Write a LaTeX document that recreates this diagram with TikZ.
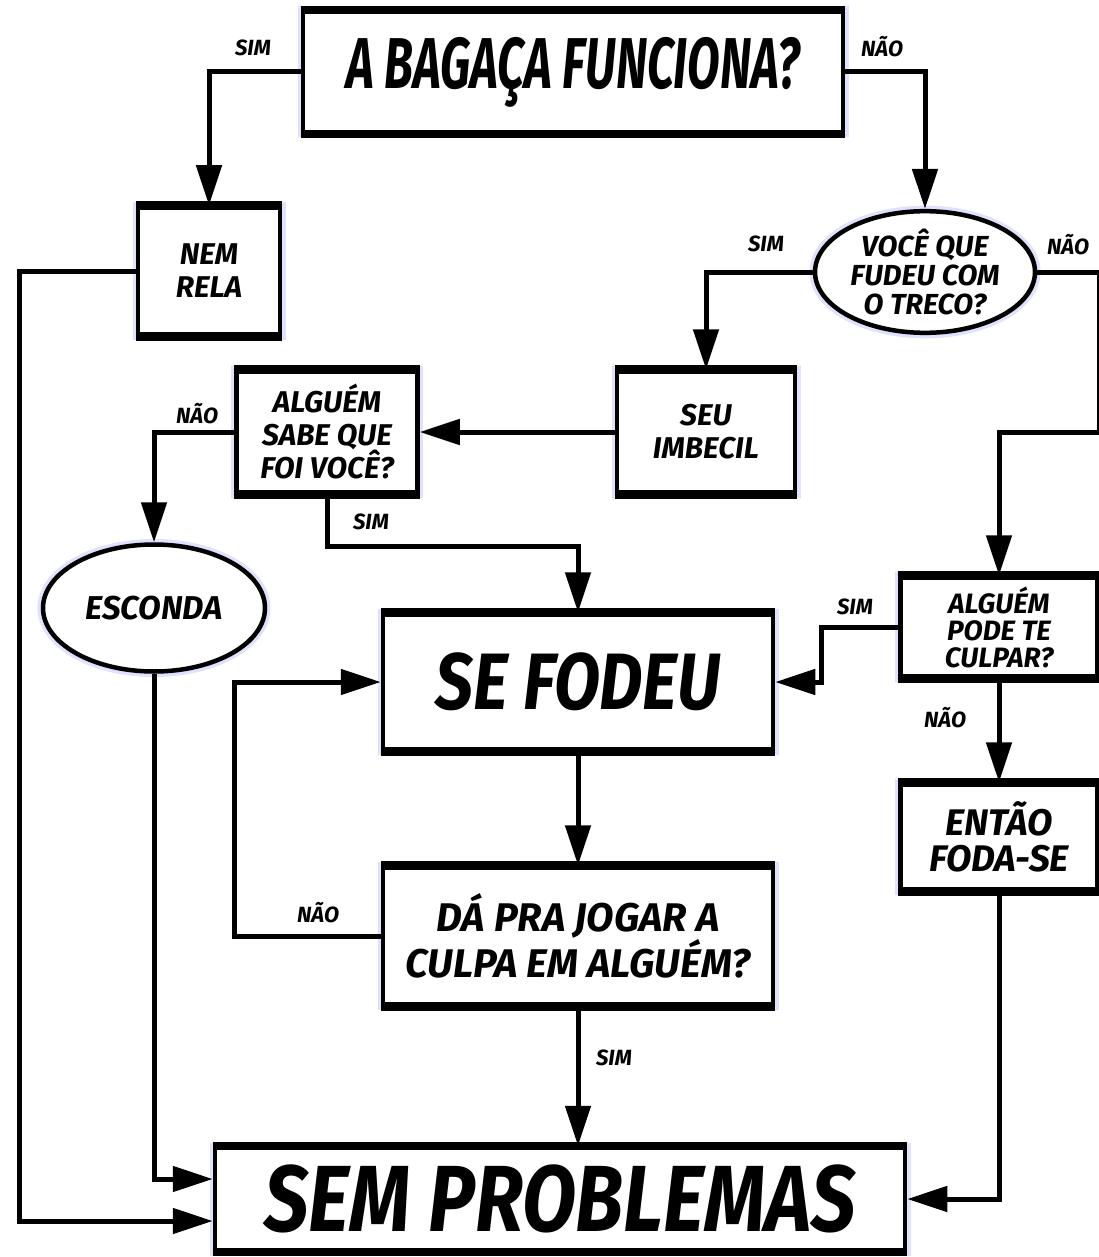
\documentclass[tikz,border=0pt]{standalone}
\usepackage{fontspec}
\setmainfont{Fira Sans}
\newfontfamily\bigcomic{Fira Sans}[FakeStretch=0.66]
\newfontfamily\widecomic{Fira Sans}[FakeStretch=0.84]
\usetikzlibrary{arrows.meta,shapes.geometric}
\tikzset{>={Triangle[length=40pt,width=25pt]}}
\tikzset{
  frame/.style={draw,line width=4.5pt,fill=white,align=center,
    preaction={draw=blue!12,line width=11pt},
    font=\bfseries\itshape\fontsize{30}{33}\selectfont},
  box/.style={frame,
    append after command={
      (\tikzlastnode.north west) edge[line width=8pt] (\tikzlastnode.north east)
      (\tikzlastnode.south west) edge[line width=8pt] (\tikzlastnode.south east)}},
  oval/.style={frame,ellipse,inner sep=0pt},
  lbl/.style={font=\bfseries\itshape\fontsize{22}{22}\selectfont},
  link/.style={->,line width=5pt}
}
\begin{document}
\begin{tikzpicture}[x=1pt,y=-1pt]
  \useasboundingbox[fill=white] (0,0) rectangle (1099,1257);
  % boxes
  \node[box,minimum width=540pt,minimum height=120pt,
    font=\bigcomic\bfseries\itshape\fontsize{72}{72}\selectfont] (bagaca) at (573,72) {A BAGAÇA FUNCIONA?};
  \node[box,minimum width=142pt,minimum height=127pt] (nemrela) at (209,271) {NEM\\RELA};
  \node[oval,minimum width=220pt,minimum height=121pt,
    font=\bfseries\itshape\fontsize{29}{29}\selectfont] (treco) at (925,272) {VOCÊ QUE\\FUDEU COM\\O TRECO?};
  \node[box,minimum width=178pt,minimum height=121pt] (imbecil) at (706,432) {SEU\\IMBECIL};
  \node[box,minimum width=181pt,minimum height=121pt,inner sep=2pt] (sabe) at (327,432) {ALGUÉM\\SABE QUE\\FOI VOCÊ?};
  \node[oval,minimum width=222pt,minimum height=127pt,
    font=\bfseries\itshape\fontsize{33}{33}\selectfont] (esconda) at (154,608) {ESCONDA};
  \node[box,minimum width=390pt,minimum height=135pt,
    font=\widecomic\bfseries\itshape\fontsize{80}{80}\selectfont] (sefodeu) at (578,682) {SE FODEU};
  \node[box,minimum width=197pt,minimum height=99pt,inner sep=0pt,
    font=\bfseries\itshape\fontsize{28}{27}\selectfont] (culpar) at (999,627) {ALGUÉM\\PODE TE\\CULPAR?};
  \node[box,minimum width=197pt,minimum height=105pt,
    font=\bfseries\itshape\fontsize{37}{36}\selectfont] (fodase) at (999,837) {ENTÃO\\FODA-SE};
  \node[box,minimum width=390pt,minimum height=137pt,
    font=\bfseries\itshape\fontsize{40}{44}\selectfont] (jogar) at (578,936) {DÁ PRA JOGAR A\\CULPA EM ALGUÉM?};
  \node[box,minimum width=690pt,minimum height=102pt,inner sep=0pt,
    font=\widecomic\bfseries\itshape\fontsize{94}{94}\selectfont] (semprob) at (560,1199) {SEM PROBLEMAS};
  % labels
  \node[lbl] (sim1) at (253,48) {SIM};
  \node[lbl] (nao1) at (882,47) {NÃO};
  \node[lbl] (sim2) at (766,244) {SIM};
  \node[lbl] (nao2) at (1068,245) {NÃO};
  \node[lbl] (nao3) at (197,414) {NÃO};
  \node[lbl] (sim3) at (371,522) {SIM};
  \node[lbl] (sim4) at (855,607) {SIM};
  \node[lbl] (nao4) at (945,718) {NÃO};
  \node[lbl] (nao5) at (318,913) {NÃO};
  \node[lbl] (sim5) at (614,1058) {SIM};
  % connectors
  \draw[link] (bagaca.west) -| (nemrela.north);
  \draw[link] (bagaca.east) -| (treco.north);
  \draw[link] (nemrela.west) -- ++(-116,0) |- ([yshift=-22pt]semprob.west);
  \draw[link] (treco.west) -| (imbecil.north);
  \draw[link] (treco.east) -- ++(62,0) -- ++(0,160) -| (culpar.north);
  \draw[link] (imbecil.west) -- (sabe.east);
  \draw[link] (sabe.west) -| (esconda.north);
  \draw[link] (sabe.south) -- ++(0,52) -| (sefodeu.north);
  \draw[link] (esconda.south) |- ([yshift=20pt]semprob.west);
  \draw[link] (culpar.west) -- ++(-77,0) |- (sefodeu.east);
  \draw[link] (culpar.south) -- (fodase.north);
  \draw[link] (fodase.south) |- (semprob.east);
  \draw[link] (sefodeu.south) -- (jogar.north);
  \draw[link] (jogar.west) -- ++(-146,0) |- (sefodeu.west);
  \draw[link] (jogar.south) -- (jogar.south |- semprob.north);
\end{tikzpicture}
\end{document}
